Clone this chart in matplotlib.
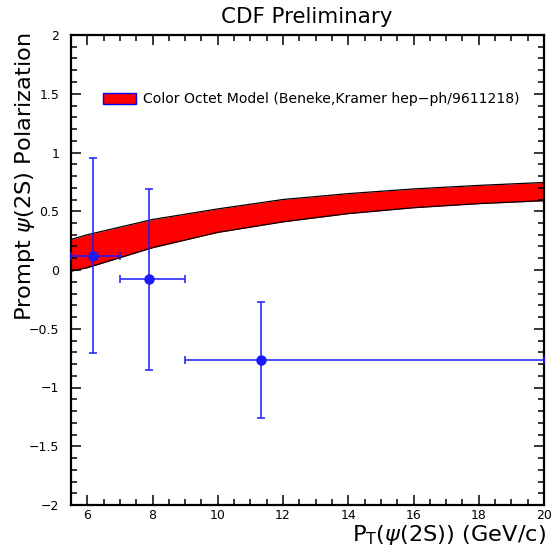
import matplotlib
matplotlib.use("Agg")
import matplotlib.pyplot as plt
from matplotlib.ticker import MultipleLocator
from matplotlib.patches import Patch

# Data
pt = [6.18, 7.88, 11.33]
pol = [0.117, -0.079, -0.763]
pt_lo = [5.5, 7.0, 9.0]
pt_hi = [7.0, 9.0, 20.0]
pol_up = [0.95, 0.687, -0.272]
pol_dn = [-0.709, -0.851, -1.257]

band_x = [5.5, 6, 8, 10, 12, 14, 16, 18, 20]
band_upper = [0.26, 0.30, 0.43, 0.52, 0.60, 0.65, 0.69, 0.72, 0.745]
band_lower = [-0.01, 0.02, 0.19, 0.32, 0.41, 0.48, 0.53, 0.565, 0.59]

x_ticks = [6, 8, 10, 12, 14, 16, 18, 20]
y_ticks = [-2, -1.5, -1, -0.5, 0, 0.5, 1, 1.5, 2]
y_tick_labels = ['\u22122', '\u22121.5', '\u22121', '\u22120.5', '0', '0.5', '1', '1.5', '2']

plt.rcParams['font.family'] = ['DejaVu Sans']
plt.rcParams['mathtext.fontset'] = 'dejavusans'

fig = plt.figure(figsize=(5.53, 5.50), dpi=100)
ax = fig.add_axes([71/553, 1-505/550, (544-71)/553, (505-35)/550])

ax.fill_between(band_x, band_lower, band_upper, color='#ff0000', linewidth=0, zorder=1)
ax.plot(band_x, band_upper, color='black', lw=0.9, zorder=2)
ax.plot(band_x, band_lower, color='black', lw=0.9, zorder=2)

xerr = [[p - l for p, l in zip(pt, pt_lo)], [h - p for p, h in zip(pt, pt_hi)]]
yerr = [[p - d for p, d in zip(pol, pol_dn)], [u - p for p, u in zip(pol, pol_up)]]
ax.errorbar(pt, pol, xerr=xerr, yerr=yerr, fmt='o', color='#1a1aff', ms=6.5,
            elinewidth=1.1, capsize=3, capthick=1.1, zorder=3, clip_on=False)

ax.set_xlim(5.5, 20)
ax.set_ylim(-2, 2)
ax.set_xticks(x_ticks)
ax.set_yticks(y_ticks)
ax.set_yticklabels(y_tick_labels)
ax.xaxis.set_minor_locator(MultipleLocator(0.5))
ax.yaxis.set_minor_locator(MultipleLocator(0.1))
ax.tick_params(which='both', direction='in', top=True, right=True, width=1.1, colors='black')
ax.tick_params(which='major', length=7, labelsize=9)
ax.tick_params(axis='x', which='major', pad=3)
ax.tick_params(axis='y', which='major', pad=8.5)
ax.tick_params(which='minor', length=4)
for s in ax.spines.values():
    s.set_linewidth(1.6)

fig.text(307/553, 1-23/550, 'CDF Preliminary', ha='center', va='baseline', fontsize=15.4)
fig.text(546/553, 1-541/550, r'P$_\mathregular{T}$($\psi$(2S)) (GeV/c)', ha='right', va='baseline', fontsize=16.2)
fig.text(25/553, 1-33/550, r'Prompt $\psi$(2S) Polarization', ha='center', va='top', rotation=90, fontsize=16.2)

leg = ax.legend([Patch(facecolor='#ff0000', edgecolor='blue', linewidth=1)],
                ['Color Octet Model (Beneke,Kramer hep\u2212ph/9611218)'],
                loc='center left', bbox_to_anchor=((103-71)/473, (505-99.5)/470),
                frameon=False, fontsize=10.1, borderpad=0, borderaxespad=0,
                handlelength=2.35, handleheight=0.78, handletextpad=0.5)

fig.savefig('out.png', dpi=100)
